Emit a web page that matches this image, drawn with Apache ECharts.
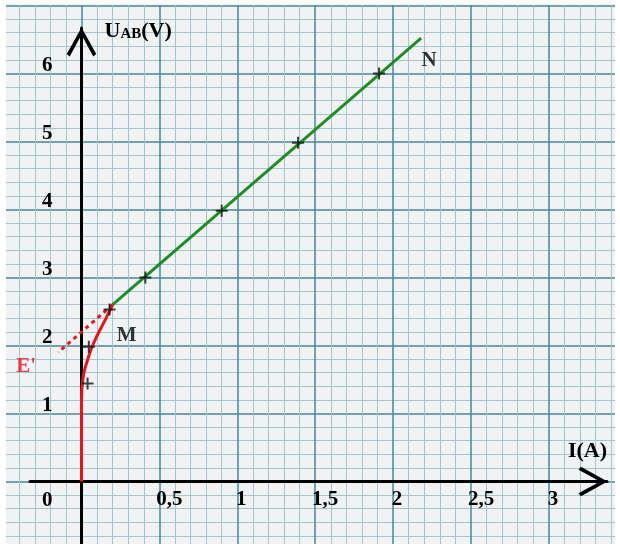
<!DOCTYPE html>
<html><head><meta charset="utf-8">
<script src="https://cdn.jsdelivr.net/npm/echarts@6/dist/echarts.min.js"></script>
<style>html,body{margin:0;padding:0;background:#fff}#c{width:620px;height:544px}</style>
</head><body><div id="c"></div>
<script>
// ---- data ----
const xTickValues = [0.5, 1, 1.5, 2, 2.5, 3];
const xTickLabels = ['0,5', '1', '1,5', '2', '2,5', '3'];
const yTickValues = [0, 1, 2, 3, 4, 5, 6];
const yTickLabels = ['0', '1', '2', '3', '4', '5', '6'];
const greenI = [0.2, 2.18];
const greenU = [2.6, 6.52];
const redI = [0, 0, 0.011, 0.034, 0.066, 0.108, 0.153, 0.2];
const redU = [0, 1.2, 1.54, 1.75, 1.97, 2.18, 2.38, 2.6];
const dashI = [0.2, -0.149];
const dashU = [2.6, 1.9];
const markI = [0.41, 0.9, 1.39, 1.91, 0.18, 0.047, 0.039];
const markU = [3, 3.98, 4.98, 6, 2.53, 1.98, 1.44];
const pointNames = ['N', 'M', "E'"];

// ---- layout ----
const OX = 81.5, OY = 481.5, PXA = 155.8, PXV = 68;
const AX_L = 30, AX_R = 607, AX_T = 28, AX_B = 544;
const FONT = "'Liberation Serif','Times New Roman',serif";
const FS = 21;
const pairs = (a, b) => a.map((v, i) => [v, b[i]]);
const ARROW = 'path://M15,0L30,27L27,29.5L15,7.5L3,29.5L0,27Z';

const chart = echarts.init(document.getElementById('c'), null, {renderer: 'canvas'});
const option = {
  animation: false,
  backgroundColor: '#f0f2f4',
  grid: [
    {left: OX - 0.5 * PXA, top: OY - 7 * PXV, width: 4 * PXA, height: 8 * PXV,
     containLabel: false, outerBoundsMode: 'none'},
    {left: AX_L, right: 620 - AX_R, top: AX_T, bottom: 544 - AX_B,
     containLabel: false, outerBoundsMode: 'none'}
  ],
  xAxis: [
    {gridIndex: 0, type: 'value', min: -0.5, max: 3.5, interval: 0.5,
     axisLine: {show: false}, axisTick: {show: false}, axisLabel: {show: false},
     splitLine: {show: true, lineStyle: {color: '#46879a', width: 1.5}},
     minorTick: {show: false, splitNumber: 5},
     minorSplitLine: {show: true, lineStyle: {color: '#a3c5ce', width: 1}}},
    {gridIndex: 1, type: 'value', min: (AX_L - OX) / PXA, max: (AX_R - OX) / PXA,
     position: 'bottom', offset: -(AX_B - OY),
     axisLine: {show: true, onZero: false, lineStyle: {color: '#000', width: 3},
       symbol: ['none', ARROW], symbolSize: [30, 29], symbolOffset: [0, -14]},
     axisTick: {show: false}, splitLine: {show: false},
     name: 'I(A)', nameLocation: 'end', nameGap: 0,
     nameTextStyle: {fontFamily: FONT, fontWeight: 'bold', fontSize: 22, color: '#000',
       align: 'right', verticalAlign: 'bottom', padding: [0, 0, 19, 0]},
     axisLabel: {show: true, customValues: xTickValues, margin: 8,
       fontFamily: FONT, fontWeight: 'bold', fontSize: FS, color: '#000',
       formatter: v => {
         const i = xTickValues.indexOf(v);
         const t = i >= 0 ? xTickLabels[i] : '';
         return t.indexOf(',') >= 0 ? '{c|' + t + '}' : '{d|' + t + '}';
       },
       rich: {
         c: {fontFamily: FONT, fontWeight: 'bold', fontSize: FS, color: '#000', padding: [0, 0, 0, 20]},
         d: {fontFamily: FONT, fontWeight: 'bold', fontSize: FS, color: '#000', padding: [0, 0, 0, 8]}
       }}}
  ],
  yAxis: [
    {gridIndex: 0, type: 'value', min: -1, max: 7, interval: 1,
     axisLine: {show: false}, axisTick: {show: false}, axisLabel: {show: false},
     splitLine: {show: true, lineStyle: {color: '#46879a', width: 1.5}},
     minorTick: {show: false, splitNumber: 5},
     minorSplitLine: {show: true, lineStyle: {color: '#a3c5ce', width: 1}}},
    {gridIndex: 1, type: 'value', min: (OY - AX_B) / PXV, max: (OY - AX_T) / PXV,
     position: 'left', offset: -(OX - AX_L),
     axisLine: {show: true, onZero: false, lineStyle: {color: '#000', width: 3},
       symbol: ['none', ARROW], symbolSize: [30, 29], symbolOffset: [0, -14]},
     axisTick: {show: false}, splitLine: {show: false},
     name: '{u|U}{s|AB}{u|(V)}', nameLocation: 'end', nameGap: -3,
     nameTextStyle: {align: 'left', verticalAlign: 'middle', padding: [0, 0, 0, 23],
       rich: {
         u: {fontFamily: FONT, fontWeight: 'bold', fontSize: 22, color: '#000'},
         s: {fontFamily: FONT, fontWeight: 'bold', fontSize: 15, color: '#000', padding: [7, 0, 0, 0]}
       }},
     axisLabel: {show: true, customValues: yTickValues, margin: 29,
       formatter: v => {
         const i = yTickValues.indexOf(v);
         const t = i >= 0 ? yTickLabels[i] : '';
         return v === 0 ? '{z|' + t + '}' : '{n|' + t + '}';
       },
       rich: {
         n: {fontFamily: FONT, fontWeight: 'bold', fontSize: FS, color: '#000', padding: [0, 0, 16, 0]},
         z: {fontFamily: FONT, fontWeight: 'bold', fontSize: FS, color: '#000', padding: [38, 0, 0, 0]}
       }}}
  ],
  graphic: [
    {type: 'rect', shape: {x: 0, y: 0, width: 620, height: 4}, style: {fill: '#fff'}, z: 50, silent: true},
    {type: 'rect', shape: {x: 0, y: 0, width: 6, height: 544}, style: {fill: '#fff'}, z: 50, silent: true},
    {type: 'rect', shape: {x: 615, y: 0, width: 5, height: 544}, style: {fill: '#fff'}, z: 50, silent: true}
  ],
  series: [
    {type: 'line', xAxisIndex: 1, yAxisIndex: 1, data: pairs(dashI, dashU), symbol: 'none',
     lineStyle: {color: '#e8141c', width: 3, type: [4, 4]}, z: 3},
    {type: 'line', xAxisIndex: 1, yAxisIndex: 1, data: pairs(greenI, greenU), symbol: 'none',
     lineStyle: {color: '#1f8c26', width: 3}, z: 3},
    {type: 'line', xAxisIndex: 1, yAxisIndex: 1, data: pairs(redI, redU), symbol: 'none',
     smooth: 0.5,
     lineStyle: {color: '#e8141c', width: 3}, z: 4},
    {type: 'scatter', xAxisIndex: 1, yAxisIndex: 1, data: pairs(markI, markU),
     symbol: 'path://M0,6H12M6,0V12', symbolSize: 12,
     itemStyle: {color: 'none', borderColor: '#111', borderWidth: 2}, z: 5},
    {type: 'scatter', xAxisIndex: 1, yAxisIndex: 1, symbolSize: 1,
     itemStyle: {color: 'rgba(0,0,0,0)'}, z: 6,
     label: {show: true, position: 'inside', formatter: p => p.name,
       fontFamily: FONT, fontWeight: 'bold', fontSize: FS, color: '#000'},
     data: [
       {name: pointNames[0], value: [greenI[greenI.length - 1], greenU[greenU.length - 1]], label: {offset: [8, 22]}},
       {name: pointNames[1], value: [redI[redI.length - 1], redU[redU.length - 1]], label: {offset: [14, 31]}},
       {name: pointNames[2], value: [dashI[dashI.length - 1], dashU[dashU.length - 1]], label: {offset: [-32, 14], color: '#e8141c'}}
     ]}
  ]
};
chart.setOption(option);
</script></body></html>
